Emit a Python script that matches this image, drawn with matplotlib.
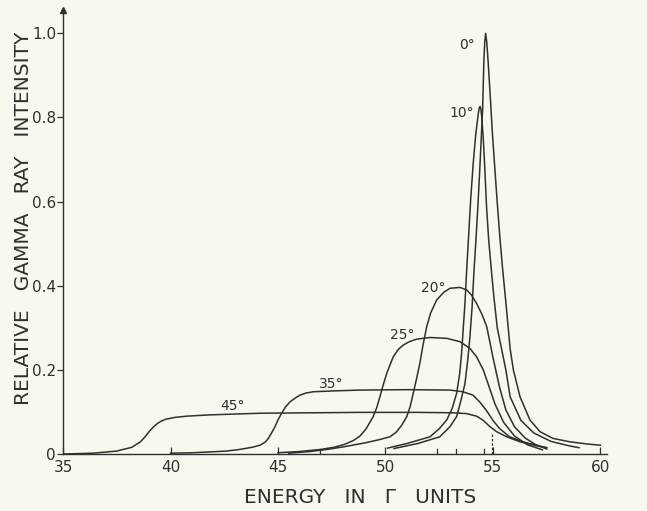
import matplotlib
matplotlib.use("Agg")
import matplotlib.pyplot as plt

# Gamma-ray spectra at several emission angles (energy in Gamma units, relative intensity)
angle_labels = ["0°", "10°", "20°", "25°", "35°", "45°"]

energy_0 = [50.4, 51.5, 52.53, 53.0, 53.31, 53.5, 53.70, 53.82, 53.93, 54.03, 54.12, 54.21,
            54.30, 54.39, 54.47, 54.52, 54.58, 54.62, 54.66, 54.71, 54.78, 54.91, 54.97, 55.1,
            55.21, 55.33, 55.45, 55.62, 55.8, 55.95, 56.26, 56.72, 57.19, 57.8, 58.58, 59.36, 60.0]
intensity_0 = [0.013, 0.025, 0.041, 0.065, 0.089, 0.125, 0.168, 0.22, 0.279, 0.35, 0.437, 0.51,
               0.59, 0.68, 0.766, 0.82, 0.94, 0.98, 1.0, 0.98, 0.93, 0.82, 0.766, 0.67,
               0.59, 0.51, 0.44, 0.35, 0.25, 0.2, 0.136, 0.081, 0.053, 0.037, 0.029, 0.024, 0.021]

energy_10 = [50.1, 51.0, 52.07, 52.5, 52.85, 53.1, 53.31, 53.45, 53.54, 53.62, 53.70, 53.78,
             53.88, 53.97, 54.08, 54.2, 54.32, 54.36, 54.40, 54.44, 54.48, 54.55, 54.62, 54.70,
             54.80, 54.92, 55.05, 55.2, 55.4, 55.6, 55.8, 56.3, 56.9, 57.7, 58.5, 59.0]
intensity_10 = [0.014, 0.025, 0.041, 0.06, 0.081, 0.108, 0.144, 0.19, 0.239, 0.30, 0.36, 0.44,
                0.53, 0.61, 0.69, 0.76, 0.81, 0.822, 0.826, 0.82, 0.80, 0.75, 0.68, 0.59,
                0.51, 0.44, 0.37, 0.30, 0.25, 0.2, 0.136, 0.08, 0.05, 0.03, 0.02, 0.015]

energy_20 = [45.5, 46.5, 47.3, 48.04, 49.0, 49.7, 50.21, 50.5, 50.75, 50.99, 51.15, 51.29,
             51.45, 51.6, 51.75, 51.92, 52.1, 52.38, 52.7, 53.0, 53.47, 53.78, 54.0, 54.24,
             54.48, 54.71, 55.0, 55.3, 55.6, 56.0, 56.5, 57.0, 57.5]
intensity_20 = [0.002, 0.006, 0.011, 0.017, 0.026, 0.034, 0.041, 0.052, 0.068, 0.089, 0.113, 0.144,
                0.18, 0.216, 0.26, 0.303, 0.335, 0.366, 0.384, 0.394, 0.396, 0.390, 0.378, 0.358,
                0.333, 0.303, 0.23, 0.16, 0.105, 0.065, 0.038, 0.022, 0.012]

energy_25 = [45.0, 46.0, 47.0, 47.6, 48.1, 48.5, 48.8, 49.1, 49.43, 49.6, 49.74, 49.9, 50.06,
             50.36, 50.6, 50.83, 51.1, 51.45, 52.07, 52.85, 53.47, 53.93, 54.24, 54.55, 54.8,
             55.1, 55.5, 56.0, 56.6, 57.3]
intensity_25 = [0.003, 0.006, 0.011, 0.016, 0.023, 0.032, 0.042, 0.06, 0.089, 0.111, 0.136, 0.165, 0.192,
                0.231, 0.249, 0.259, 0.267, 0.273, 0.277, 0.275, 0.267, 0.251, 0.231, 0.200, 0.163,
                0.118, 0.075, 0.043, 0.022, 0.01]

energy_35 = [40.0, 41.0, 41.84, 42.6, 43.23, 43.8, 44.16, 44.4, 44.55, 44.7, 44.86, 45.0, 45.17,
             45.35, 45.56, 45.8, 46.02, 46.3, 46.64, 47.57, 48.81, 51.0, 53.0, 53.6, 54.07, 54.38,
             54.69, 55.0, 55.3, 55.77, 56.4, 57.0, 57.5]
intensity_35 = [0.002, 0.003, 0.005, 0.007, 0.011, 0.016, 0.021, 0.028, 0.037, 0.05, 0.065, 0.081, 0.097,
                0.112, 0.124, 0.133, 0.140, 0.145, 0.148, 0.150, 0.152, 0.153, 0.152, 0.148, 0.140, 0.124,
                0.104, 0.08, 0.061, 0.041, 0.029, 0.021, 0.015]

energy_45 = [35.0, 36.4, 37.5, 38.2, 38.6, 38.8, 39.0, 39.2, 39.4, 39.6, 39.8, 40.2, 40.75, 41.8,
             44.2, 48.8, 51.5, 53.2, 53.78, 54.24, 54.55, 54.86, 55.17, 55.64, 56.26, 57.0, 57.5]
intensity_45 = [0.0, 0.002, 0.007, 0.016, 0.029, 0.04, 0.053, 0.064, 0.073, 0.079, 0.083, 0.087, 0.090, 0.093,
                0.097, 0.099, 0.099, 0.098, 0.096, 0.09, 0.08, 0.065, 0.053, 0.041, 0.029, 0.02, 0.015]

# Energies flagged with short marks on the energy axis
marked_energies = [46.95, 52.38, 53.28, 54.58]
arrow_energy = 54.94

x_ticks = [35, 40, 45, 50, 55, 60]
x_tick_labels = ["35", "40", "45", "50", "55", "60"]
y_ticks = [0, 0.2, 0.4, 0.6, 0.8, 1.0]
y_tick_labels = ["0", "0.2", "0.4", "0.6", "0.8", "1.0"]

curves = [
    (energy_0, intensity_0),
    (energy_10, intensity_10),
    (energy_20, intensity_20),
    (energy_25, intensity_25),
    (energy_35, intensity_35),
    (energy_45, intensity_45),
]
label_spots = [(53.79, 0.972), (53.56, 0.81), (52.2, 0.395), (50.79, 0.283), (47.47, 0.166), (42.91, 0.114)]

ink = "#303030"
paper = "#f9f7ee"
font = ["DejaVu Sans"]

fig = plt.figure(figsize=(6.47, 5.11), dpi=100, facecolor=paper)
ax = fig.add_axes([0.0974, 0.1115, 0.8406, 0.8685])
ax.set_facecolor(paper)

for (e, i) in curves:
    ax.plot(e, i, color=ink, lw=1.1, solid_joinstyle="round")

for lab, (x, y) in zip(angle_labels, label_spots):
    ax.text(x, y, lab, ha="center", va="center", fontsize=10, color=ink, family=font)

ax.set_xlim(35, 60.3)
ax.set_ylim(0, 1.055)

for s in ("top", "right"):
    ax.spines[s].set_visible(False)
for s in ("left", "bottom"):
    ax.spines[s].set_color(ink)
    ax.spines[s].set_linewidth(1.0)

# arrow head at the top of the intensity axis
ax.plot([0], [1], marker="^", markersize=4, color=ink, transform=ax.transAxes, clip_on=False)

ax.set_xticks(x_ticks)
ax.set_xticklabels(x_tick_labels, family=font, fontsize=11, color=ink)
ax.set_yticks(y_ticks)
ax.set_yticklabels(y_tick_labels, family=font, fontsize=11, color=ink)
ax.tick_params(axis="x", direction="in", length=5, width=0.9, color=ink, pad=4)
ax.tick_params(axis="y", direction="out", length=4, width=0.9, color=ink, pad=1)

# small marks standing on the energy axis
for e in marked_energies:
    ax.plot([e, e], [0, 0.012], color=ink, lw=0.9)
ax.plot([arrow_energy, arrow_energy], [0, 0.05], color=ink, lw=0.9, ls=(0, (2, 1.5)))

fig.text(24 / 647, 1 - 218 / 511, "RELATIVE   GAMMA   RAY   INTENSITY", rotation=90,
         ha="center", va="center", fontsize=14.5, color=ink, family=font)
fig.text(360 / 647, 1 - 497 / 511, "ENERGY   IN   Γ   UNITS",
         ha="center", va="center", fontsize=14.5, color=ink, family=font)

fig.savefig("out.png", dpi=100, facecolor=paper)
